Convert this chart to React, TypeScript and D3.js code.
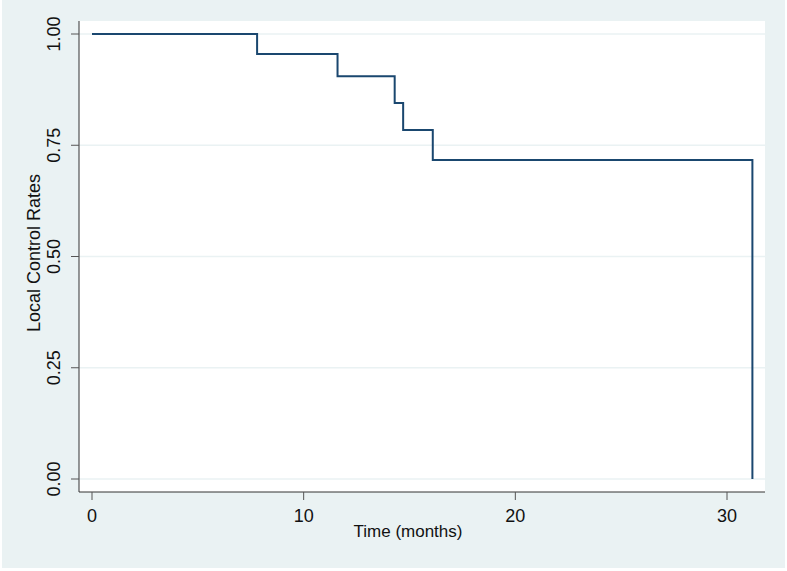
import React from "react";
import * as d3 from "d3";

// Kaplan-Meier step estimates
const eventTimes = [0, 7.8, 11.6, 14.3, 14.7, 16.1, 31.2];
const survival = [1.0, 0.955, 0.905, 0.845, 0.784, 0.717, 0.0];
const xTicks = [0, 10, 20, 30];
const yTicks = [0, 0.25, 0.5, 0.75, 1];

const App = () => {
  const width = 787;
  const height = 571;
  const plot = { left: 79, right: 765, top: 21, bottom: 492 };

  const x = d3.scaleLinear().domain([0, 30]).range([92, 727]);
  const y = d3.scaleLinear().domain([0, 1]).range([479, 34]);

  const pts: [number, number][] = eventTimes.map((t, i) => [t, survival[i]]);
  const line = d3
    .line<[number, number]>()
    .x((d) => x(d[0]))
    .y((d) => y(d[1]))
    .curve(d3.curveStepAfter);

  const font = "'Liberation Sans', Arial, sans-serif";

  return (
    <svg
      width={width}
      height={height}
      style={{ position: "absolute", left: 0, top: 0 }}
      fontFamily={font}
    >
      <rect x={0} y={0} width={width} height={height} fill="#ffffff" />
      <rect x={2} y={0} width={783} height={568} fill="#eaf2f3" />
      <rect
        x={plot.left}
        y={plot.top}
        width={plot.right - plot.left}
        height={plot.bottom - plot.top}
        fill="#ffffff"
      />
      {/* gridlines */}
      {yTicks.map((t) => (
        <line
          key={"g" + t}
          x1={plot.left}
          x2={plot.right}
          y1={y(t)}
          y2={y(t)}
          stroke="#eaf2f3"
          strokeWidth={1.5}
        />
      ))}
      {/* survival curve */}
      <path d={line(pts) || ""} fill="none" stroke="#1a476f" strokeWidth={2} />
      {/* axes */}
      <line x1={plot.left} x2={plot.left} y1={plot.top} y2={plot.bottom} stroke="#333" strokeWidth={1} />
      <line x1={plot.left} x2={plot.right} y1={plot.bottom} y2={plot.bottom} stroke="#333" strokeWidth={1} />
      {yTicks.map((t) => (
        <g key={"y" + t}>
          <line x1={plot.left - 8} x2={plot.left} y1={y(t)} y2={y(t)} stroke="#555" />
          <text
            transform={`translate(${60},${y(t)}) rotate(-90)`}
            textAnchor="middle"
            fontSize={18}
            fill="#111"
          >
            {d3.format(".2f")(t)}
          </text>
        </g>
      ))}
      {xTicks.map((t) => (
        <g key={"x" + t}>
          <line x1={x(t)} x2={x(t)} y1={plot.bottom} y2={plot.bottom + 8} stroke="#555" />
          <text x={x(t)} y={522} textAnchor="middle" fontSize={18} fill="#111">
            {t}
          </text>
        </g>
      ))}
      <text x={408} y={537} textAnchor="middle" fontSize={17} fill="#111">
        Time (months)
      </text>
      <text
        transform={`translate(${40},${253}) rotate(-90)`}
        textAnchor="middle"
        fontSize={18}
        fill="#111"
      >
        Local Control Rates
      </text>
    </svg>
  );
};

export default App;
